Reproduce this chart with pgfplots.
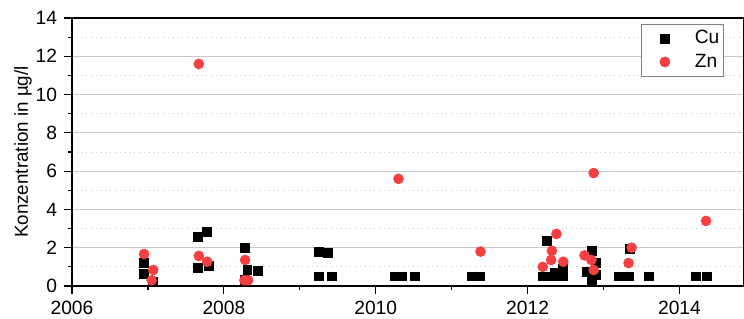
\documentclass[border=0pt]{standalone}
\usepackage{fontspec}
\setmainfont{Liberation Sans}
\usepackage{pgfplots}
\pgfplotsset{compat=1.18}
\definecolor{znred}{RGB}{244,64,64}
\definecolor{gridgray}{RGB}{200,200,200}
\pgfplotsset{mylegimg/.style={legend image code/.code={\draw[draw=none] (0,0) -- (0.86cm,0); \draw[##1] plot coordinates {(0.405cm,0cm)};}}}
\begin{document}
\begin{tikzpicture}
\begin{axis}[
  name=ax,
  scale only axis,
  width=336pt, height=134pt,
  xmin=2006, xmax=2014.85,
  ymin=0, ymax=14,
  xtick={2006,2008,2010,2012,2014},
  minor x tick num=1,
  ytick={0,2,...,14},
  minor y tick num=1,
  tick align=outside,
  tick pos=left,
  major tick length=4pt,
  minor tick length=2pt,
  axis line style={line width=0.8pt},
  every tick/.style={black, line width=0.6pt},
  ymajorgrids, yminorgrids,
  major grid style={gridgray, line width=0.5pt},
  minor grid style={gridgray, dotted, line width=0.4pt},
  /pgf/number format/assume math mode=true,
  /pgf/number format/1000 sep={},
  tick label style={font=\fontsize{9.6}{11}\selectfont},
  ylabel={Konzentration in µg/l},
  ylabel style={font=\fontsize{9.4}{11}\selectfont, at={(axis description cs:-0.073,0.5)}, anchor=center},
  legend style={at={(rel axis cs:0.97,0.978)}, anchor=north east,
    font=\fontsize{9.6}{11}\selectfont, draw=gray, line width=0.5pt,
    inner xsep=0pt, inner ysep=2pt, row sep=1.5pt,
    nodes={inner ysep=1pt}},
  legend cell align=left,
  clip=false,
]
\addplot[only marks, mark=square*, mark size=2.2pt, black, mylegimg] coordinates {
(2006.95,1.2) (2006.95,0.63) (2007.07,0.2)
(2007.66,2.55) (2007.78,2.82) (2007.66,0.94) (2007.8,1.05)
(2008.28,2.0) (2008.31,0.84) (2008.45,0.78) (2008.28,0.3)
(2009.25,1.8) (2009.37,1.72) (2009.25,0.5) (2009.42,0.5)
(2010.25,0.5) (2010.35,0.5) (2010.52,0.5)
(2011.26,0.5) (2011.37,0.5)
(2012.25,2.35) (2012.2,0.5) (2012.3,0.5) (2012.4,0.5) (2012.47,0.5) (2012.36,0.7) (2012.47,0.9)
(2012.78,0.73) (2012.85,1.84) (2012.85,0.3) (2012.9,1.2) (2012.9,0.57)
(2013.2,0.5) (2013.33,0.5) (2013.35,1.92) (2013.6,0.5)
(2014.22,0.5) (2014.36,0.5)
};
\addlegendentry{Cu}
\addplot[only marks, mark=*, mark size=2.45pt, znred, mark options={draw=znred, fill=znred}, mylegimg] coordinates {
(2006.95,1.67) (2007.07,0.84) (2007.05,0.3)
(2007.67,11.6) (2007.67,1.57) (2007.78,1.27)
(2008.28,1.36) (2008.27,0.3) (2008.32,0.3)
(2010.3,5.6) (2011.38,1.8)
(2012.2,1.0) (2012.31,1.36) (2012.32,1.84) (2012.38,2.72) (2012.47,1.27)
(2012.75,1.6) (2012.84,1.36) (2012.87,0.84) (2012.87,5.9)
(2013.37,2.0) (2013.33,1.2) (2014.35,3.4)
};
\addlegendentry{Zn}
\end{axis}
\pgfresetboundingbox
\path (ax.south west) ++(-36pt,-16pt) coordinate (bbsw);
\path (ax.north east) ++(-0.3pt,9pt) coordinate (bbne);
\path[use as bounding box] (bbsw) rectangle (bbne);
\end{tikzpicture}
\end{document}
